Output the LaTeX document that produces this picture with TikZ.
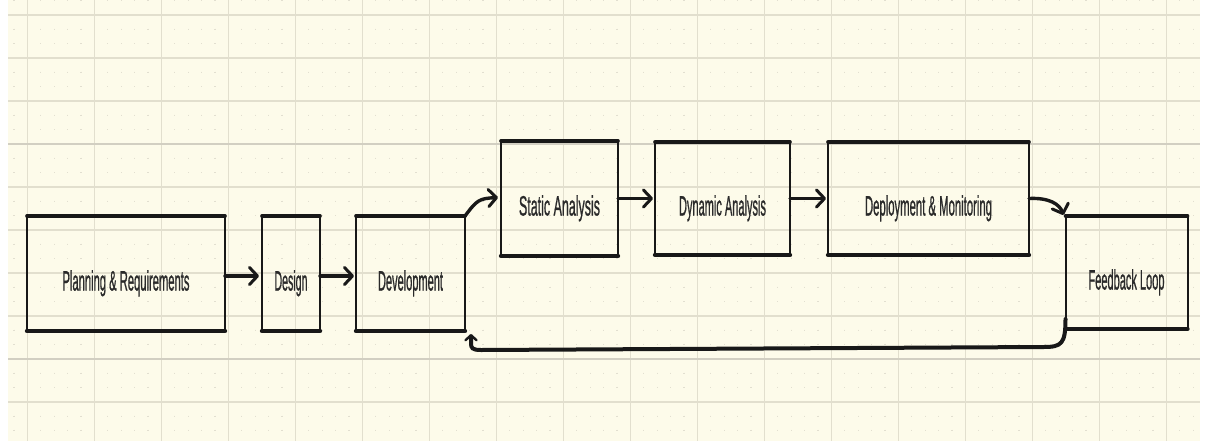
\documentclass[tikz,border=0pt]{standalone}
\usepackage{fontspec}
\setmainfont{Liberation Sans}
\newfontfamily\handfont[FakeBold=1.3]{Liberation Sans}
\usetikzlibrary{arrows.meta,calc}
\definecolor{paper}{RGB}{253,251,234}
\definecolor{gridc}{RGB}{226,223,206}
\definecolor{gridd}{RGB}{210,207,194}
\definecolor{dotc}{RGB}{226,223,208}
\definecolor{ink}{RGB}{24,24,24}
\definecolor{txt}{RGB}{42,42,42}
\newcommand{\lbl}[2]{\resizebox{#1}{\height}{#2}}
\begin{document}
\begin{tikzpicture}[x=1pt,y=-1pt,
  box/.style={draw=ink, line width=2pt, inner sep=0pt, outer sep=0pt,
    font=\handfont\fontsize{28}{30}\selectfont, text=txt, text height=34pt, text depth=0pt},
  edgetop/.style={draw=ink, line width=3.6pt, line cap=round},
  edgebot/.style={draw=ink, line width=4.4pt, line cap=round},
  conn/.style={draw=ink, line width=3.4pt, line cap=round,
    -{Straight Barb[length=8pt,width=17pt,line width=3pt,round]}},
  loopconn/.style={draw=ink, line width=4pt, line cap=round,
    -{Straight Barb[length=5pt,width=11pt,line width=2.4pt,round]}},
]
\useasboundingbox (0,0) rectangle (1205,445);
\fill[white] (0,0) rectangle (1205,445);
\fill[paper] (8,0) rectangle (1200,441);
% minor dotted grid
\foreach \i in {0,...,88}
  \draw[dotc, line width=1.2pt, dash pattern=on 1.2pt off 13.13pt, dash phase=0pt]
    ({14+13.4*\i},0.07) -- ({14+13.4*\i},441);
% major grid
\foreach \k in {0,...,17}
  \draw[gridc, line width=1pt] ({27+67*\k},0) -- ({27+67*\k},441);
\foreach \k in {0,1,2,4,5,6,7,9}
  \draw[gridc, line width=1.1pt] (8,{15+43*\k}) -- (1200,{15+43*\k});
\foreach \k in {3,8}
  \draw[gridd, line width=1.6pt] (8,{15+43*\k}) -- (1200,{15+43*\k});

% boxes
\node[box, minimum width=198pt, minimum height=115pt] (p) at (126,273.5) {\lbl{127pt}{Planning \& Requirements}};
\node[box, minimum width=58pt, minimum height=115pt] (d) at (291,273.5) {\lbl{33pt}{Design}};
\node[box, minimum width=109pt, minimum height=115pt] (dev) at (410.5,273.5) {\lbl{65pt}{Development}};
\node[box, minimum width=117pt, minimum height=115pt] (sa) at (559.5,198.5) {\lbl{81pt}{Static Analysis}};
\node[box, minimum width=135pt, minimum height=113pt] (da) at (722.5,198.5) {\lbl{87pt}{Dynamic Analysis}};
\node[box, minimum width=201pt, minimum height=113pt] (dm) at (928.5,198.5) {\lbl{127pt}{Deployment \& Monitoring}};
\node[box, minimum width=122pt, minimum height=113pt] (fb) at (1126.5,272.5) {\lbl{76pt}{Feedback Loop}};

\foreach \n in {p,d,dev,sa,da,dm,fb} {
  \draw[edgetop] (\n.north west) -- (\n.north east);
  \draw[edgebot] (\n.south west) -- (\n.south east);
}

% connectors
\draw[conn, shorten >=3pt] ([yshift=-2.5pt]p.east) -- ([yshift=-2.5pt]d.west);
\draw[conn, shorten >=2pt] ([yshift=-2.5pt]d.east) -- ([yshift=-2.5pt]dev.west);
\draw[conn] (dev.north east) .. controls ($(dev.north east)+(12,-16)$) and ($(sa.west)+(-22,0)$) .. ([xshift=-3pt,yshift=1pt]sa.west);
\draw[conn, shorten >=2pt] (sa.east) -- (da.west);
\draw[conn, shorten >=2pt] (da.east) -- (dm.west);
\draw[conn] (dm.east) .. controls ($(dm.east)+(20,-1)$) and ($(fb.north west)+(-6,-12)$) .. ([xshift=-2pt,yshift=1pt]fb.north west);
\draw[loopconn] ([yshift=10pt]fb.south west)
  .. controls ($(fb.south west)+(0,15)$) and ($(fb.south west)+(-4,18)$) .. ($(fb.south west)+(-22,18)$)
  -- ($(dev.south east)+(16,19)$)
  .. controls ($(dev.south east)+(7,19)$) and ($(dev.south east)+(6,17)$) .. ($(dev.south east)+(6,12)$)
  -- ([xshift=6pt,yshift=-3pt]dev.south east);
\end{tikzpicture}
\end{document}
